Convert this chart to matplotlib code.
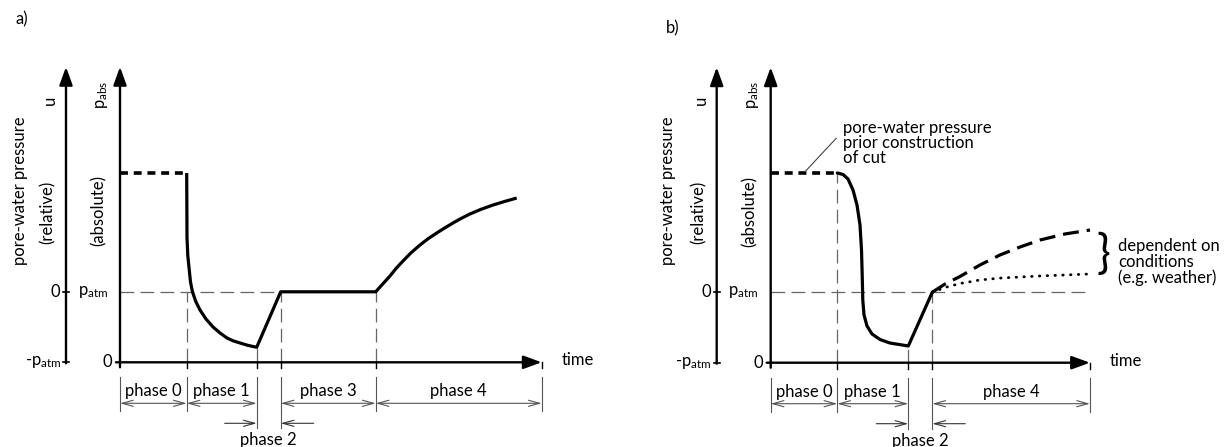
import matplotlib
matplotlib.use('Agg')
import matplotlib.pyplot as plt

plt.rcParams['font.family'] = ['Lato', 'DejaVu Sans']
plt.rcParams['mathtext.fontset'] = 'custom'
plt.rcParams['mathtext.rm'] = 'Lato'
plt.rcParams['mathtext.it'] = 'Lato:italic'

W, H, DPI = 1231, 447, 100
KX, KY = 10.0, 70.5          # pixels per time unit, pixels per p_atm
FS = 12

# ---------------- data (time units, pressure in units of p_atm) -------------
# panel a
a_bounds = [0, 6.67, 13.67, 16.07, 25.57, 42.17]
a_init_t = [0, 6.67]
a_init_p = [2.685, 2.685]
a_t = [6.67, 6.70, 6.78, 6.90, 7.05, 7.25, 7.6, 8.0, 8.6, 9.3, 10.0, 10.7, 11.3, 12.0, 12.8, 13.67,
       16.07, 25.57, 26.3, 27.0, 27.6, 28.3, 29.1, 30.0, 30.8, 31.67, 32.5, 33.3, 34.1, 35.0,
       36.1, 37.3, 38.5, 39.67]
a_p = [2.685, 1.767, 1.511, 1.345, 1.139, 0.997, 0.855, 0.742, 0.614, 0.501, 0.416, 0.345, 0.305, 0.274,
       0.24, 0.213,
       1.0, 1.0, 1.115, 1.224, 1.33, 1.437, 1.553, 1.664, 1.752, 1.834, 1.908, 1.976, 2.04, 2.104,
       2.17, 2.231, 2.283, 2.33]
a_vdash_t = [6.67, 13.67, 16.07, 25.57]
a_vdash_top = [1.0, 0.213, 1.0, 1.0]
a_patm_end = 16.07
a_phases = ['phase 0', 'phase 1', 'phase 3', 'phase 4']
a_phase_spans = [(0, 6.67), (6.67, 13.67), (16.07, 25.57), (25.57, 42.17)]

# panel b
b_bounds = [0, 6.66, 13.76, 16.16, 31.93]
b_init_t = [0, 6.66]
b_init_p = [2.691, 2.691]
b_t = [6.66, 7.23, 7.73, 8.23, 8.63, 8.93, 9.08, 9.15, 9.21, 9.33, 9.63, 10.13, 10.93, 11.93, 13.76, 16.16]
b_p = [2.691, 2.670, 2.606, 2.450, 2.237, 1.953, 1.599, 1.244, 0.889, 0.677, 0.521, 0.407, 0.329, 0.279, 0.237, 1.0]
b_high_t = [16.16, 17.43, 18.93, 20.93, 22.93, 24.93, 26.93, 29.43, 31.93]
b_high_p = [1.0, 1.116, 1.223, 1.386, 1.528, 1.641, 1.740, 1.826, 1.882]
b_low_t = [16.16, 17.43, 18.93, 20.93, 22.93, 26.93, 31.93]
b_low_p = [1.0, 1.067, 1.123, 1.173, 1.200, 1.230, 1.258]
b_vdash_t = [6.66, 13.76, 16.16]
b_vdash_top = [2.691, 0.237, 1.0]
b_patm_end = 31.93
b_phases = ['phase 0', 'phase 1', 'phase 4']
b_phase_spans = [(0, 6.66), (6.66, 13.76), (16.16, 31.93)]

P_TOP = 4.19

fig = plt.figure(figsize=(W / DPI, H / DPI), dpi=DPI)


def make_axes(px_left, px_right, x0, y0):
    ax = fig.add_axes([px_left / W, 0, (px_right - px_left) / W, 1])
    ax.set_xlim((px_left - x0) / KX, (px_right - x0) / KX)
    ax.set_ylim(-(H - y0) / KY, y0 / KY)
    ax.axis('off')
    return ax


def solid_arrow(ax, xy0, xy1):
    ax.annotate('', xy=xy1, xytext=xy0,
                arrowprops=dict(arrowstyle='-|>,head_length=1.1,head_width=0.4',
                                lw=1.7, color='black', shrinkA=0, shrinkB=0,
                                mutation_scale=10),
                annotation_clip=False)


def thin_arrow(ax, xy0, xy1, style='<->', color='#555555'):
    ax.annotate('', xy=xy1, xytext=xy0,
                arrowprops=dict(arrowstyle=style + ',head_length=0.8,head_width=0.22',
                                lw=0.8, color=color, shrinkA=0, shrinkB=0,
                                mutation_scale=10),
                annotation_clip=False)


def px(n):
    """convert pixel distance to time units"""
    return n / KX


def py(n):
    return n / KY


def common(ax, bounds, t_end, vdash_t, vdash_top, patm_end, phases, spans, tag, tagxy, lab_dx):
    rel_t = -px(54)
    # axes
    solid_arrow(ax, (rel_t, -py(1)), (rel_t, P_TOP))
    solid_arrow(ax, (0, -py(5)), (0, P_TOP))
    solid_arrow(ax, (-px(4), 0), (t_end, 0))
    # ticks on relative axis
    for pv in [0, 1]:
        ax.plot([rel_t - px(3), rel_t + px(3)], [pv, pv], color='black', lw=1.2)
    # ticks under time axis
    for tb in bounds[1:]:
        ax.plot([tb, tb], [0, -py(6)], color='black', lw=1.0)
    # thin dashed guides
    dash_kw = dict(color='#666666', lw=0.9, dashes=(11, 5))
    ax.plot([0, patm_end], [1, 1], **dash_kw)
    for tv, top in zip(vdash_t, vdash_top):
        ax.plot([tv, tv], [0, top], **dash_kw)
    # axis labels
    ax.text(rel_t - px(lab_dx), 2.44, 'pore-water pressure', rotation=90, ha='center', va='center', fontsize=FS)
    ax.text(rel_t - px(18), 2.13, '(relative)', rotation=90, ha='center', va='center', fontsize=FS)
    ax.text(rel_t - px(16), 3.72, 'u', rotation=90, ha='center', va='center', fontsize=FS)
    ax.text(-px(21), 2.15, '(absolute)', rotation=90, ha='center', va='center', fontsize=FS)
    ax.text(-px(18), 3.80, r'$\mathregular{p_{abs}}$', rotation=90, ha='center', va='center', fontsize=FS)
    ax.text(rel_t - px(6), 1, '0', ha='right', va='center', fontsize=FS)
    ax.text(rel_t - px(5), 0, r'-$\mathregular{p_{atm}}$', ha='right', va='center', fontsize=FS)
    ax.text(-px(12), 1, r'$\mathregular{p_{atm}}$', ha='right', va='center', fontsize=FS)
    ax.text(-px(8), 0, '0', ha='right', va='center', fontsize=FS)
    ax.text(t_end + px(20), py(2), 'time', ha='left', va='center', fontsize=FS)
    ax.text(tagxy[0], tagxy[1], tag, ha='center', va='center', fontsize=FS)
    # phase bar
    v_top, v_bot = -py(15), -py(49)
    arr_y, lab_y = -py(41), -py(29)
    for tb in bounds:
        ax.plot([tb, tb], [v_top, v_bot], color='#555555', lw=0.8)
    for name, (s, e) in zip(phases, spans):
        thin_arrow(ax, (s, arr_y), (e, arr_y))
        ax.text((s + e) / 2, lab_y, name, ha='center', va='center', fontsize=FS)
    # phase 2
    t2, t3 = bounds[2], bounds[3]
    p2_y = -py(61)
    for tb in (t2, t3):
        ax.plot([tb, tb], [v_bot, -py(66)], color='#555555', lw=0.8)
    thin_arrow(ax, (t2 - px(32), p2_y), (t2, p2_y), style='->', color='#333333')
    thin_arrow(ax, (t3 + px(33), p2_y), (t3, p2_y), style='->', color='#333333')
    ax.text((t2 + t3) / 2, -py(78), 'phase 2', ha='center', va='center', fontsize=FS)


# ---------------- panel a ----------------
axa = make_axes(0, 615, 120.0, 362.3)
common(axa, a_bounds, a_bounds[-1], a_vdash_t, a_vdash_top, a_patm_end,
       a_phases, a_phase_spans, 'a)', (-px(98), py(343)), 46)
axa.plot(a_init_t, a_init_p, color='black', lw=2.6, dashes=(2.2, 1.6))
axa.plot(a_t, a_p, color='black', lw=2.3, solid_joinstyle='round', solid_capstyle='butt')

# ---------------- panel b ----------------
axb = make_axes(615, 1231, 770.7, 362.7)
common(axb, b_bounds, b_bounds[-1], b_vdash_t, b_vdash_top, b_patm_end,
       b_phases, b_phase_spans, 'b)', (-px(98), py(334.7)), 49)
axb.plot(b_init_t, b_init_p, color='black', lw=2.6, dashes=(2.2, 1.6))
axb.plot(b_t, b_p, color='black', lw=2.3, solid_joinstyle='round', solid_capstyle='round')
axb.plot(b_high_t, b_high_p, color='black', lw=2.3, dashes=(5, 2.5))
axb.plot(b_low_t, b_low_p, color='black', lw=2.0, dashes=(0.2, 2.6), dash_capstyle='round')
# annotation of the initial level
axb.plot([px(34.3), px(65.5)], [py(191), py(224.4)], color='#444444', lw=0.8)
axb.text(px(72.6), py(219.7), 'pore-water pressure\nprior construction\nof cut',
         ha='left', va='center', fontsize=FS, linespacing=0.9)
# brace and explanation
axb.text(b_bounds[-1] + px(13), 1.53, '}', ha='center', va='center', fontsize=33)
axb.text(b_bounds[-1] + px(28), 1.43, 'dependent on\nconditions\n(e.g. weather)',
         ha='left', va='center', fontsize=FS, linespacing=0.95)

fig.savefig('out.png', dpi=DPI)
